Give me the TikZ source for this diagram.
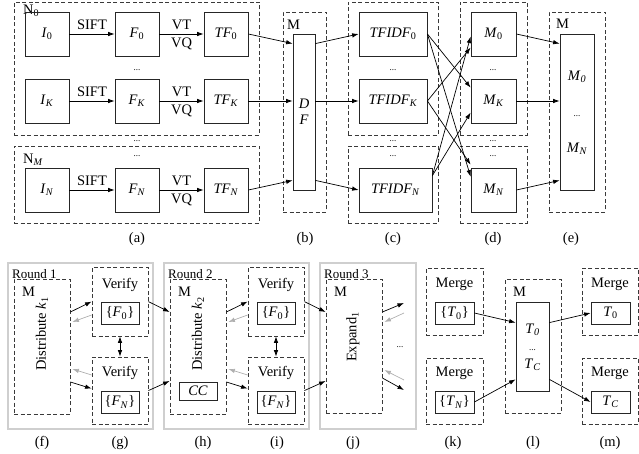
\documentclass[tikz,border=0pt]{standalone}
\usepackage{fontspec}
\setmainfont{Liberation Serif}
\usetikzlibrary{arrows.meta,positioning,calc,fit}
\definecolor{grpgray}{HTML}{3A3A3A}
\definecolor{rndgray}{HTML}{CFCFCF}
\definecolor{fbgray}{HTML}{B0B0B0}
\newcommand{\isub}[2]{\textit{#1}\textsubscript{#2}}

\begin{document}
\begin{tikzpicture}[x=1pt, y=-1pt,
  font=\fontsize{14.5}{16}\selectfont,
  box/.style={draw=black!85, line width=0.8pt, inner sep=0pt,
              minimum width=44pt, minimum height=44pt},
  sbox/.style={box, minimum width=39pt, minimum height=22pt},
  grp/.style={draw=grpgray, dash pattern=on 4pt off 2.5pt, line width=0.8pt, inner sep=0pt},
  rnd/.style={draw=rndgray, line width=1.3pt, inner sep=0pt},
  arr/.style={-{Latex[length=6.5pt,width=4.5pt]}, line width=0.7pt},
  darr/.style={{Latex[length=6.5pt,width=4.5pt]}-{Latex[length=6.5pt,width=4.5pt]}, line width=0.7pt},
  garr/.style={arr, draw=fbgray},
  dots/.style={font=\fontsize{9}{10}\selectfont, inner sep=0pt},
  glbl/.style={anchor=north west, inner sep=0pt},
  rlbl/.style={glbl, font=\fontsize{13}{14}\selectfont},
]
\useasboundingbox (0,0) rectangle (639,454);

%% ---- (a) nodes N_0 ... N_M ----
\node[grp, fit={(14,2) (259,135)}] (grpa0) {};
\node[grp, fit={(14,146) (259,223)}] (grpam) {};
\node[glbl] (lbla0) at (23,5) {N\textsubscript{0}};
\node[glbl] (lblam) at (23,154) {N\textsubscript{\textit{M}}};

\foreach \r/\y/\s in {0/34/0, k/101/\textit{K}, n/190/\textit{N}} {
  \node[box] (i\r) at (47,\y) {\isub{I}{\s}};
  \node[box] (f\r) at (137,\y) {\isub{F}{\s}};
  \node[box] (tf\r) at (226,\y) {\isub{TF}{\s}};
  \draw[arr] (i\r) -- node[above, inner sep=4pt] {SIFT} (f\r);
  \draw[arr] (f\r) -- node[above, inner sep=4pt] {VT}
                      node[below, inner sep=4pt] {VQ} (tf\r);
}

%% ---- (b) document frequency ----
\node[grp, fit={(283,12) (326,212)}] (grpb) {};
\node[glbl] (lblb) at (287,20) {M};
\node[box, minimum width=22pt, minimum height=156pt, align=center] (df)
  at (304,112) {\textit{D}\\\textit{F}};

\draw[arr] (tf0.east) -- ($(df.north west)+(0,10)$);
\draw[arr] (tfk.east) -- (df.west |- tfk.east);
\draw[arr] (tfn.east) -- ($(df.south west)+(0,-10)$);

%% ---- (c) tf-idf ----
\node[grp, fit={(348,2) (438,135)}] (grpc0) {};
\node[grp, fit={(348,146) (438,223)}] (grpcn) {};
\node[box, minimum width=68pt] (tfidf0) at (393,34) {\isub{TFIDF}{0}};
\node[box, minimum width=68pt] (tfidfk) at (393,101) {\isub{TFIDF}{\textit{K}}};
\node[box, minimum width=73pt] (tfidfn) at (395.5,190) {\isub{TFIDF}{\textit{N}}};

\draw[arr] ($(df.north east)+(0,10)$) -- (tfidf0.west);
\draw[arr] (df.east |- tfidfk.west) -- (tfidfk.west);
\draw[arr] ($(df.south east)+(0,-10)$) -- (tfidfn.west);

%% ---- (d) matrices ----
\node[grp, fit={(460,2) (527,135)}] (grpd0) {};
\node[grp, fit={(460,146) (527,223)}] (grpdn) {};
\node[box, minimum width=45pt] (m0) at (493.5,34) {\isub{M}{0}};
\node[box, minimum width=45pt] (mk) at (493.5,101) {\isub{M}{\textit{K}}};
\node[box, minimum width=45pt] (mn) at (493.5,190) {\isub{M}{\textit{N}}};

% shuffle between (c) and (d)
\draw[arr] (tfidf0.east) -- ($(mk.north west)+(0,9)$);
\draw[arr] (tfidf0.east) -- ($(mn.north west)+(0,9)$);
\draw[arr] (tfidfk.east) -- ($(m0.north west)+(0,36)$);
\draw[arr] (tfidfk.east) -- ($(mn.north west)+(0,-3)$);
\draw[arr] ($(tfidfn.north east)+(0,8)$) -- ($(m0.north west)+(0,25)$);
\draw[arr] ($(tfidfn.north east)+(0,8)$) -- ($(mk.north west)+(0,34)$);

%% ---- (e) merged matrix ----
\node[grp, fit={(549,12) (605,212)}] (grpe) {};
\node[glbl] (lble) at (556,19) {M};
\node[box, minimum width=34pt, minimum height=156pt] (mall) at (577,112) {};
\node (mall0) at (577,77) {\isub{M}{\textit{0}}};
\node[dots] (malld) at (577,116) {...};
\node (malln) at (577,149) {\isub{M}{\textit{N}}};

\draw[arr] (m0.east) -- ($(mall.north west)+(0,10)$);
\draw[arr] (mk.east) -- (mall.west |- mk.east);
\draw[arr] (mn.east) -- ($(mall.south west)+(0,-10)$);

%% ---- dots between rows ----
\foreach \x [count=\c] in {137,393,493} {
  \node[dots] (dta\c) at (\x,70) {...};
  \node[dots] (dtb\c) at (\x,141) {...};
  \node[dots] (dtc\c) at (\x,156) {...};
}

%% ---- rounds 1 and 2 ----
\foreach \n/\dx/\k in {1/0/1, 2/156/2} {
  \begin{scope}[xshift=\dx pt]
    \node[rnd, fit={(8,263) (153,429)}] (rnd\n) {};
    \node[rlbl] (lblr\n) at (12,269) {Round \n};
    \node[grp, fit={(14,279) (70,414)}] (m\n) {};
    \node[glbl] (lblm\n) at (22,287) {M};
    \node[rotate=90] (dist\n) at (42,334) {Distribute \isub{k}{\k}};
    \node[grp, fit={(92,267) (148,336)}] (va\n) {};
    \node (vta\n) at (120,285) {Verify};
    \node[sbox, minimum width=38pt] (fa\n) at (120,313) {\{\isub{F}{0}\}};
    \node[grp, fit={(92,357) (148,424)}] (vb\n) {};
    \node (vtb\n) at (120,373) {Verify};
    \node[sbox, minimum width=38pt] (fb\n) at (120,402) {\{\isub{F}{\textit{N}}\}};
    \draw[darr] (va\n.south) -- (vb\n.north);
    \draw[arr] ($(m\n.east |- fa\n.center)+(0,-1)$) -- (va\n.west |- fa\n.north);
    \draw[garr] ($(va\n.west |- fa\n.center)+(0,2)$) -- ($(m\n.east |- fa\n.center)+(2,9)$);
    \draw[garr] ($(vb\n.west |- fb\n.center)+(0,-27)$) -- ($(m\n.east |- fb\n.center)+(2,-33)$);
    \draw[arr] ($(m\n.east |- fb\n.center)+(0,-20)$) -- ($(vb\n.west |- fb\n.north)+(0,-2)$);
  \end{scope}
}
\node[sbox, minimum width=38pt, minimum height=18pt] (cc) at (198,391) {\textit{CC}};

%% ---- round 3 ----
\node[rnd, fit={(320,263) (416,429)}] (rnd3) {};
\node[rlbl] (lblr3) at (324,269) {Round 3};
\node[grp, fit={(326,279) (382,413)}] (m3) {};
\node[glbl] (lblm3) at (334,287) {M};
\node[rotate=90] (exp3) at (353,337) {Expand\textsubscript{1}};
\coordinate (e1) at (404,303);
\coordinate (e2) at (404,313);
\coordinate (e3) at (404,380);
\coordinate (e4) at (404,390);
\draw[arr] ($(m3.east |- e1)+(0,9)$) -- (e1);
\draw[garr] (e2) -- ($(m3.east |- e2)+(2,9)$);
\draw[garr] (e3) -- ($(m3.east |- e3)+(2,-10)$);
\draw[arr] ($(m3.east |- e4)+(0,-12)$) -- (e4);
\node[dots] (dt3) at (400,347) {...};

% verify -> next round
\foreach \n/\m in {1/2, 2/3} {
  \draw[arr] (va\n.east |- fa\n.north) -- ($(m\m.west |- fa\n.center)+(0,-1)$);
  \draw[arr] (vb\n.east |- fb\n.north) -- ($(m\m.west |- fb\n.center)+(0,-21)$);
}

%% ---- (k) (l) (m) merge ----
\node[grp, fit={(426,268) (483,335)}] (grpka) {};
\node (mgka) at (454.5,284) {Merge};
\node[sbox] (t0k) at (454.5,313) {\{\isub{T}{0}\}};
\node[grp, fit={(426,358) (483,424)}] (grpkb) {};
\node (mgkb) at (454.5,373) {Merge};
\node[sbox] (tnk) at (454.5,402) {\{\isub{T}{\textit{N}}\}};

\node[grp, fit={(505,279) (561,413)}] (grpl) {};
\node[glbl] (lbll) at (513,287) {M};
\node[box, minimum width=33pt, minimum height=89pt] (tl) at (532.5,346.5) {};
\node (tl0) at (532.5,330) {\isub{T}{\textit{0}}};
\node[dots] (tld) at (532.5,350) {...};
\node (tlc) at (532.5,365) {\isub{T}{\textit{C}}};

\node[grp, fit={(582,268) (638,335)}] (grpma) {};
\node (mgma) at (610,284) {Merge};
\node[sbox] (t0m) at (610.5,313) {\isub{T}{0}};
\node[grp, fit={(582,358) (638,424)}] (grpmb) {};
\node (mgmb) at (610,373) {Merge};
\node[sbox] (tcm) at (610.5,402) {\isub{T}{\textit{C}}};

\draw[arr] (t0k.east) -- ($(tl.north west)+(0,21)$);
\draw[arr] (tnk.east) -- ($(tl.south west)+(0,-12)$);
\draw[arr] ($(tl.north east)+(0,21)$) -- (t0m.west);
\draw[arr] ($(tl.south east)+(0,-12)$) -- (tcm.west);

%% ---- sub-figure labels ----
\foreach \l/\x in {a/137, b/305, c/393, d/493, e/571}
  \node (sub\l) at (\x,239.5) {(\l)};
\foreach \l/\x in {f/42, g/120, h/203, i/277, j/353, k/453, l/533, m/610}
  \node (sub\l) at (\x,443) {(\l)};

\end{tikzpicture}
\end{document}
